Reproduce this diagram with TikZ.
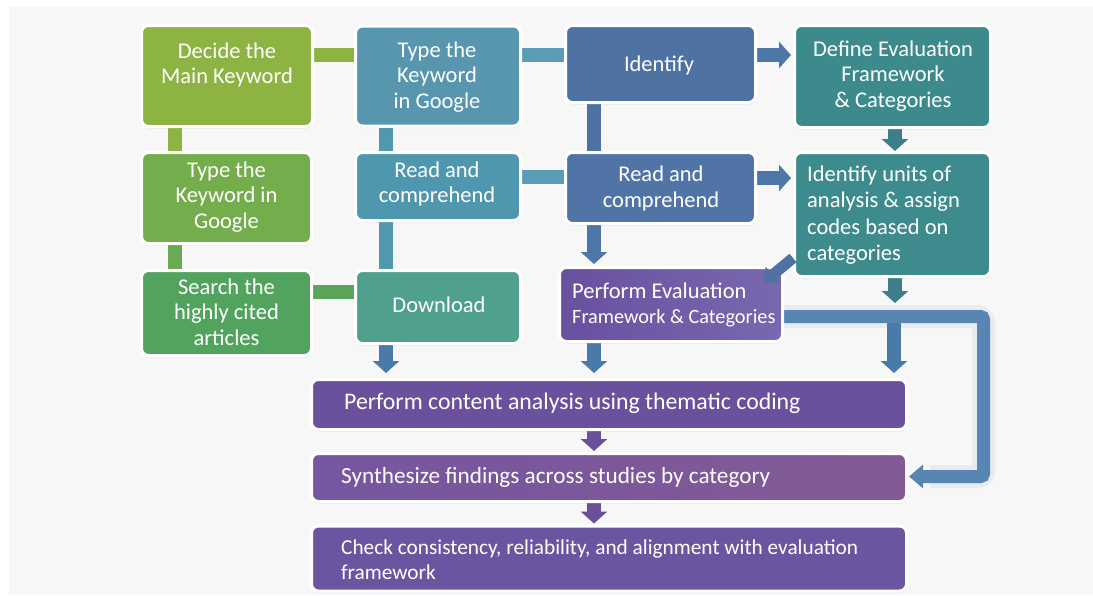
\documentclass[tikz,border=0pt]{standalone}
\usepackage{fontspec}
\setmainfont{Carlito}
\usetikzlibrary{arrows.meta,shadows,calc}
\definecolor{cA1}{HTML}{8DB443}
\definecolor{cA2}{HTML}{74AD4B}
\definecolor{cA3}{HTML}{51A35E}
\definecolor{cB1}{HTML}{5896B0}
\definecolor{cB2}{HTML}{4F97AE}
\definecolor{cB3}{HTML}{50A08E}
\definecolor{cC1}{HTML}{4E72A2}
\definecolor{cC2}{HTML}{5074A6}
\definecolor{cC3l}{HTML}{6A50A0}
\definecolor{cC3r}{HTML}{7868AE}
\definecolor{cD1}{HTML}{3C8A8C}
\definecolor{cD2}{HTML}{3E8B8D}
\definecolor{cE1}{HTML}{6B519D}
\definecolor{cE2l}{HTML}{7556A0}
\definecolor{cE2r}{HTML}{835A95}
\definecolor{cE3}{HTML}{6B55A0}
\definecolor{panel}{HTML}{F7F7F8}
\definecolor{gbarA}{HTML}{8DB443}
\definecolor{gbarB}{HTML}{6AAA52}
\definecolor{gbarC}{HTML}{5AA55A}
\definecolor{tbarB}{HTML}{4F98AD}
\definecolor{tbarC}{HTML}{5A9BB5}
\definecolor{arrBlue}{HTML}{4D77A7}
\definecolor{arrTeal}{HTML}{3E7D8A}
\definecolor{arrDown}{HTML}{4A7BA8}
\definecolor{arrPurp}{HTML}{6A4F9B}
\definecolor{loopc}{HTML}{5886B4}
\definecolor{halo}{HTML}{E7ECF1}
\pgfdeclarelayer{back}
\pgfdeclarelayer{conn}
\pgfsetlayers{back,conn,main}
\begin{document}
\begin{tikzpicture}[x=1pt,y=-1pt,
  box/.style={rectangle, rounded corners=7pt, draw=white, line width=3pt, inner sep=0pt,
    drop shadow={opacity=0.16, shadow xshift=0.5pt, shadow yshift=-2pt}},
  lbl/.style={text=white, font=\fontsize{22.5}{25.5}\selectfont, align=center, inner sep=0pt},
  lbll/.style={lbl, align=left, anchor=west},
  bar/.style={line width=14pt},
  arr/.style={line width=14pt, -{Triangle[width=26pt,length=12pt]}},
]
\useasboundingbox (0,0) rectangle (1093,595);
\begin{pgfonlayer}{back}
\fill[white] (0,0) rectangle (1093,595);
\fill[panel] (9,7) rectangle (1093,595);
\end{pgfonlayer}

% boxes
\node[box, fill=cA1, minimum width=171pt, minimum height=101pt] (a1) at (227,76) {};
\node[box, fill=cA2, minimum width=170pt, minimum height=91pt] (a2) at (226.5,198) {};
\node[box, fill=cA3, minimum width=170pt, minimum height=85pt] (a3) at (226.5,313) {};
\node[box, fill=cB1, minimum width=165pt, minimum height=100pt] (b1) at (438,76) {};
\node[box, fill=cB2, minimum width=165pt, minimum height=68pt] (b2) at (438,186.5) {};
\node[box, fill=cB3, minimum width=165pt, minimum height=73pt] (b3) at (438,307) {};
\node[box, fill=cC1, minimum width=190pt, minimum height=77pt] (c1) at (660.5,64) {};
\node[box, fill=cC2, minimum width=190pt, minimum height=71pt] (c2) at (660.5,188) {};
\node[box, left color=cC3l, right color=cC3r, minimum width=223pt, minimum height=74pt] (c3) at (671,304.5) {};
\node[box, fill=cD1, minimum width=196pt, minimum height=102pt] (d1) at (892.5,76.5) {};
\node[box, fill=cD2, minimum width=196pt, minimum height=124pt] (d2) at (892.5,214.5) {};
\node[box, fill=cE1, minimum width=595pt, minimum height=50pt] (e1) at (609,404.5) {};
\node[box, left color=cE2l, right color=cE2r, minimum width=595pt, minimum height=48pt] (e2) at (609,477.5) {};
\node[box, fill=cE3, minimum width=595pt, minimum height=65pt] (e3) at (609,558.5) {};

% texts
\node[lbl] (a1t) at (227,65) {Decide the\\Main Keyword};
\node[lbl] (a2t) at (226.5,197) {Type the\\Keyword in\\Google};
\node[lbl] (a3t) at (226.5,312) {Search the\\highly cited\\articles};
\node[lbl] (b1t) at (437,77) {Type the\\Keyword\\in Google};
\node[lbl] (b2t) at (437,184) {Read and\\comprehend};
\node[lbl] (b3t) at (439,305) {Download};
\node[lbl] (c1t) at (659,65) {Identify};
\node[lbl] (c2t) at (661,188.5) {Read and\\comprehend};
\node[lbl, align=left, anchor=west] (c3t) at (572,305) {Perform Evaluation\\[-1pt]{\fontsize{20.3}{22}\selectfont Framework \& Categories}};
\node[lbl] (d1t) at (893,76) {Define Evaluation\\Framework\\\& Categories};
\node[lbll, font=\fontsize{22.5}{26.5}\selectfont] (d2t) at (807,215) {Identify units of\\analysis \& assign\\codes based on\\categories};
\node[lbll, font=\fontsize{23.8}{26}\selectfont] (e1t) at (344,403) {Perform content analysis using thematic coding};
\node[lbll, font=\fontsize{23.2}{26}\selectfont] (e2t) at (341,477) {Synthesize findings across studies by category};
\node[lbll, font=\fontsize{21.3}{25}\selectfont] (e3t) at (341,560) {Check consistency, reliability, and alignment with evaluation\\framework};

\coordinate (dj) at (895,303);
\coordinate (bj) at (894,323);

% connectors
\begin{pgfonlayer}{conn}
\draw[bar, gbarA] (a1.east |- 0,55) -- (b1.west |- 0,55);
\draw[bar, gbarA] (a1.south -| 175,0) -- (a2.north -| 175,0);
\draw[bar, gbarB] (a2.south -| 175,0) -- (a3.north -| 175,0);
\draw[bar, gbarC] (a3.east |- 0,291.5) -- (b3.west |- 0,291.5);
\draw[bar, tbarB] (b1.south -| 386,0) -- (b2.north -| 386,0);
\draw[bar, tbarB] (b2.south -| 386,0) -- (b3.north -| 386,0);
\draw[bar, tbarC] (b1.east |- 0,55) -- (c1.west |- 0,55);
\draw[bar, tbarC] (b2.east |- 0,177) -- (c2.west |- 0,177);
\draw[bar, cC1] (c1.south -| 594,0) -- (c2.north -| 594,0);
\draw[arr, arrBlue, shorten >=2pt] (c1.east |- 0,55) -- (d1.west |- 0,55);
\draw[arr, arrBlue, shorten >=2pt] (c2.east |- 0,178) -- (d2.west |- 0,178);
\draw[arr, arrBlue, shorten >=2pt] (c2.south -| 594,0) -- (c3.north -| 594,0);
\draw[arr, arrTeal] (d1.south -| 895,0) -- (d2.north -| 895,0);
\draw[arr, arrTeal] (d2.south -| 895,0) -- (dj);
% loop connector
\draw[line width=23pt, halo, rounded corners=6pt] (c3.east |- 0,316.5) -- (983.5,316.5) -- (983.5,476.5) -- (930,476.5);
\draw[line width=13pt, loopc, rounded corners=3pt, -{Triangle[width=23pt,length=14pt]}, shorten >=1pt]
  (c3.east |- 0,316.5) -- (983.5,316.5) -- (983.5,476.5) -- (e2.east |- 0,476.5);
\draw[arr, arrDown, shorten >=5pt] (bj) -- (e1.north -| 894,0);
\draw[arr, arrDown, shorten >=5pt] (b3.south -| 386,0) -- (e1.north -| 386,0);
\draw[arr, arrDown, shorten >=5pt] (c3.south -| 594,0) -- (e1.north -| 594,0);
\draw[arr, arrPurp, shorten >=1pt] (e1.south -| 594,0) -- (e2.north -| 594,0);
\draw[arr, arrPurp, shorten >=1pt] (e2.south -| 594,0) -- (e3.north -| 594,0);
\end{pgfonlayer}

% diagonal arrow over C3
\draw[line width=11pt, cC1, -{Triangle[width=21pt,length=11pt]}]
  ($(d2.south west)+(0,-20)$) -- ($(c3.north east)+(-20,16)$);
\end{tikzpicture}
\end{document}
